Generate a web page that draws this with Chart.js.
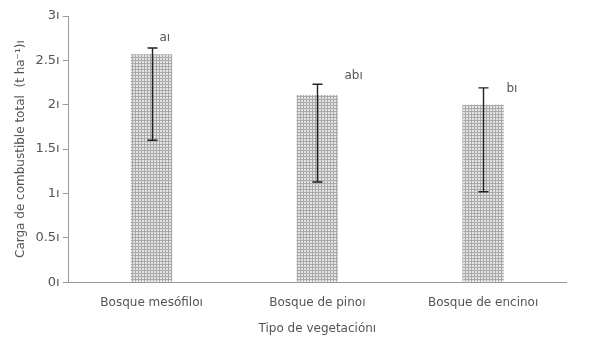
<!DOCTYPE html>
<html>
<head>
<meta charset="utf-8">
<script src="https://cdn.jsdelivr.net/npm/chart.js@4/dist/chart.umd.min.js"></script>
<style>
  html, body { margin: 0; padding: 0; background: #fff; }
</style>
</head>
<body>
<canvas id="myChart" width="589" height="345"></canvas>
<script>
var categorias = ["Bosque mesófiloı", "Bosque de pinoı", "Bosque de encinoı"];
var medias = [2.57, 2.11, 2.0];
var errorAlto = [2.64, 2.23, 2.19];
var errorBajo = [1.60, 1.13, 1.02];
var letras = ["aı", "abı", "bı"];
var letrasY = [2.75, 2.32, 2.18];

// trama punteada gris de las barras
function trama(ctx){
    var c = document.createElement("canvas");
    c.width = 3; c.height = 3;
    var p = c.getContext("2d");
    p.fillStyle = "#a9a9a9";
    p.fillRect(0, 0, 3, 3);
    p.fillStyle = "#e4e4e4";
    p.fillRect(1, 1, 2, 2);
    return ctx.createPattern(c, "repeat");
}

var fuente = "'DejaVu Sans', sans-serif";
var gris = "#555";

var barrasError = {
    id: "barrasError",
    afterDatasetsDraw: function(chart){
        var ctx = chart.ctx;
        var x = chart.scales.x, y = chart.scales.y;
        var desplaz = [7, 27, 23];
        ctx.save();
        ctx.strokeStyle = "#222";
        ctx.lineWidth = 1.4;
        for (var i = 0; i < medias.length; i++){
            var px = Math.round(x.getPixelForValue(i)) + 0.5;
            var top = y.getPixelForValue(errorAlto[i]);
            var bot = y.getPixelForValue(errorBajo[i]);
            ctx.beginPath();
            ctx.moveTo(px, top); ctx.lineTo(px, bot);
            ctx.moveTo(px - 5, top); ctx.lineTo(px + 5, top);
            ctx.moveTo(px - 5, bot); ctx.lineTo(px + 5, bot);
            ctx.stroke();
            ctx.fillStyle = gris;
            ctx.font = "12px " + fuente;
            ctx.textAlign = "left";
            ctx.textBaseline = "middle";
            ctx.fillText(letras[i], px + desplaz[i], y.getPixelForValue(letrasY[i]));
        }
        ctx.restore();
    }
};

var ctx = document.getElementById("myChart");
var c2d = ctx.getContext("2d");

var data = {
    labels: categorias,
    datasets: [{
        data: medias,
        backgroundColor: trama(c2d),
        borderWidth: 0,
        barPercentage: 0.25,
        categoryPercentage: 1
    }]
};

var myChart = new Chart(ctx, {
    type: "bar",
    data: data,
    options: {
        responsive: false,
        animation: false,
        layout: { padding: { top: 16, right: 23, left: 10, bottom: 5 } },
        plugins: { legend: { display: false }, tooltip: { enabled: false } },
        scales: {
            x: {
                grid: { display: false },
                border: { color: "#999" },
                ticks: { color: gris, font: { family: fuente, size: 12 }, padding: 5 },
                title: { display: true, text: "Tipo de vegetaciónı", color: gris,
                         font: { family: fuente, size: 12 }, padding: { top: 7 } }
            },
            y: {
                min: 0, max: 3,
                grid: { drawOnChartArea: false, drawTicks: true, tickLength: 6, color: "#999" },
                border: { color: "#999" },
                ticks: { stepSize: 0.5, color: gris, font: { family: fuente, size: 13 }, padding: 3,
                         callback: function(v){ return v + "ı"; } },
                title: { display: true, text: "Carga de combustible total  (t ha⁻¹)ı", color: gris,
                         font: { family: fuente, size: 12 }, padding: { bottom: 4 } }
            }
        }
    },
    plugins: [barrasError]
});
</script>
</body>
</html>
